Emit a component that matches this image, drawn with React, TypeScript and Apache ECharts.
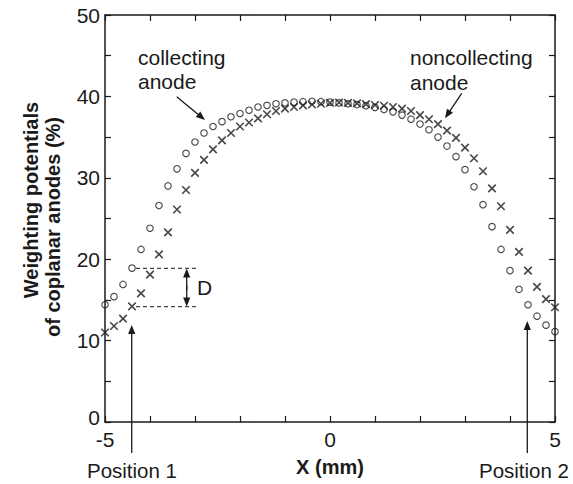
import React, { useEffect, useRef } from "react";
import * as echarts from "echarts";

// x positions (mm)
const positions = [
  -5.0, -4.8, -4.6, -4.4, -4.2, -4.0, -3.8, -3.6, -3.4, -3.2, -3.0, -2.8, -2.6,
  -2.4, -2.2, -2.0, -1.8, -1.6, -1.4, -1.2, -1.0, -0.8, -0.6, -0.4, -0.2, 0.0,
  0.2, 0.4, 0.6, 0.8, 1.0, 1.2, 1.4, 1.6, 1.8, 2.0, 2.2, 2.4, 2.6, 2.8, 3.0,
  3.2, 3.4, 3.6, 3.8, 4.0, 4.2, 4.4, 4.6, 4.8, 5.0,
];

// collecting anode (circles), %
const collecting = [
  14.4, 15.4, 16.9, 18.9, 21.2, 23.8, 26.6, 29.0, 31.1, 33.0, 34.4, 35.5, 36.3,
  36.9, 37.5, 37.9, 38.3, 38.7, 38.9, 39.1, 39.2, 39.3, 39.35, 39.4, 39.35, 39.3,
  39.2, 39.1, 39.0, 38.85, 38.65, 38.4, 38.1, 37.7, 37.2, 36.6, 35.9, 35.0, 33.9,
  32.6, 31.0, 28.9, 26.7, 24.0, 21.2, 18.6, 16.3, 14.4, 13.0, 11.9, 11.1,
];

// noncollecting anode (crosses), %
const noncollecting = [
  11.0, 11.8, 12.7, 14.2, 15.8, 18.1, 20.6, 23.3, 26.1, 28.5, 30.6, 32.2, 33.5,
  34.6, 35.5, 36.3, 36.8, 37.3, 37.8, 38.2, 38.5, 38.7, 38.9, 39.0, 39.1, 39.2,
  39.25, 39.2, 39.15, 39.05, 38.95, 38.85, 38.7, 38.5, 38.2, 37.7, 37.2, 36.6,
  35.8, 34.9, 33.7, 32.4, 30.8, 28.7, 26.5, 23.6, 20.9, 18.6, 16.6, 15.1, 14.1,
];

const xLabelTicks = [-5, 0, 5];
const yLabelTicks = [0, 10, 20, 30, 40, 50];

const FONT = "'Liberation Sans', Arial, Helvetica, sans-serif";
const INK = "#1a1a1a";

function arrowHead(x1: number, y1: number, x2: number, y2: number, len = 9, half = 3.6) {
  const dx = x2 - x1;
  const dy = y2 - y1;
  const d = Math.sqrt(dx * dx + dy * dy);
  const ux = dx / d;
  const uy = dy / d;
  const bx = x2 - ux * len;
  const by = y2 - uy * len;
  return {
    type: "polygon",
    shape: {
      points: [
        [x2, y2],
        [bx - uy * half, by + ux * half],
        [bx + uy * half, by - ux * half],
      ],
    },
    style: { fill: INK },
    z: 100,
  };
}

function arrow(x1: number, y1: number, x2: number, y2: number) {
  const dx = x2 - x1;
  const dy = y2 - y1;
  const d = Math.sqrt(dx * dx + dy * dy);
  const ex = x2 - (dx / d) * 6;
  const ey = y2 - (dy / d) * 6;
  return [
    {
      type: "line",
      shape: { x1, y1, x2: ex, y2: ey },
      style: { stroke: INK, lineWidth: 1.3 },
      z: 100,
    },
    arrowHead(x1, y1, x2, y2),
  ];
}

function label(text: string, x: number, y: number, size = 21, align = "left", weight = "normal") {
  return {
    type: "text",
    x,
    y,
    style: {
      text,
      fill: INK,
      font: `${weight} ${size}px ${FONT}`,
      align,
      verticalAlign: "middle",
    },
    z: 100,
  };
}

export default function App() {
  const ref = useRef<HTMLDivElement>(null);

  useEffect(() => {
    if (!ref.current) return;
    const chart = echarts.init(ref.current, undefined, { renderer: "svg" });

    const circleData = positions.map((x, i) => [x, collecting[i]]);
    const crossData = positions.map((x, i) => [x, noncollecting[i]]);

    const axisCommon = {
      type: "value",
      splitLine: { show: false },
      axisLine: { show: true, onZero: false, lineStyle: { color: INK, width: 1.5 } },
      axisTick: { show: true, inside: true, length: 6, lineStyle: { color: INK, width: 1.2 } },
    };

    const graphics: any[] = [
      // y axis title (two lines, rotated)
      {
        type: "text",
        x: 31,
        y: 200,
        rotation: Math.PI / 2,
        style: {
          text: "Weighting potentials",
          fill: INK,
          font: `bold 20px ${FONT}`,
          align: "center",
          verticalAlign: "middle",
        },
      },
      {
        type: "text",
        x: 53,
        y: 227,
        rotation: Math.PI / 2,
        style: {
          text: "of coplanar anodes (%)",
          fill: INK,
          font: `bold 20px ${FONT}`,
          align: "center",
          verticalAlign: "middle",
        },
      },
      label("X (mm)", 330, 467, 20, "center", "bold"),
      label("Position 1", 132, 470, 20.5, "center"),
      label("Position 2", 524, 470, 20.5, "center"),
      label("collecting", 138, 57, 21),
      label("anode", 138, 81, 21),
      label("noncollecting", 410, 57, 21),
      label("anode", 410, 82, 21),
      label("D", 197, 287, 21),
      ...arrow(176.7, 96.7, 205, 120),
      ...arrow(461.7, 93.3, 445, 118.3),
      ...arrow(131.7, 453, 131.7, 325),
      ...arrow(527.3, 453, 527.3, 321),
      ...arrow(186.7, 290, 186.7, 268.5),
      ...arrow(186.7, 285, 186.7, 306.5),
      {
        type: "line",
        shape: { x1: 136, y1: 268.3, x2: 197, y2: 268.3 },
        style: { stroke: INK, lineWidth: 1, lineDash: [4, 3] },
      },
      {
        type: "line",
        shape: { x1: 136, y1: 306.7, x2: 197, y2: 306.7 },
        style: { stroke: INK, lineWidth: 1, lineDash: [4, 3] },
      },
    ];

    chart.setOption({
      animation: false,
      backgroundColor: "#ffffff",
      grid: { left: 105, right: 18, top: 15, bottom: 62, containLabel: false },
      xAxis: [
        {
          ...axisCommon,
          position: "bottom",
          min: -5,
          max: 5,
          interval: 1,
          axisLabel: {
            show: true,
            margin: 7,
            color: INK,
            fontSize: 21,
            fontFamily: FONT,
            showMinLabel: true,
            showMaxLabel: true,
            formatter: (v: number) => (xLabelTicks.includes(Math.round(v * 1000) / 1000) ? String(v) : ""),
          },
        },
        {
          ...axisCommon,
          position: "top",
          min: -5,
          max: 5,
          interval: 1,
          axisLabel: { show: false },
        },
      ],
      yAxis: [
        {
          ...axisCommon,
          position: "left",
          min: 0,
          max: 50,
          interval: 5,
          axisLabel: {
            show: true,
            margin: 5,
            color: INK,
            fontSize: 21,
            fontFamily: FONT,
            formatter: (v: number) =>
              v === 0 ? "{z|0}" : yLabelTicks.includes(v) ? String(v) : "",
            rich: {
              z: { fontSize: 21, fontFamily: FONT, color: INK, padding: [0, 0, 10, 0] },
            },
          },
        },
        {
          ...axisCommon,
          position: "right",
          min: 0,
          max: 50,
          interval: 5,
          axisLabel: { show: false },
        },
      ],
      series: [
        {
          name: "collecting anode",
          type: "scatter",
          xAxisIndex: 0,
          yAxisIndex: 0,
          data: circleData,
          symbol: "circle",
          symbolSize: 6.5,
          itemStyle: { color: "transparent", borderColor: INK, borderWidth: 1.1 },
          z: 3,
        },
        {
          name: "noncollecting anode",
          type: "scatter",
          xAxisIndex: 0,
          yAxisIndex: 0,
          data: crossData,
          symbol: "path://M0,0L10,10M0,10L10,0",
          symbolSize: 7.5,
          itemStyle: { color: "none", borderColor: INK, borderWidth: 1.6 },
          z: 4,
        },
      ],
      graphic: graphics,
    });

    return () => chart.dispose();
  }, []);

  return (
    <div
      ref={ref}
      style={{ position: "absolute", left: 0, top: 0, width: 573, height: 484, background: "#fff" }}
    />
  );
}
